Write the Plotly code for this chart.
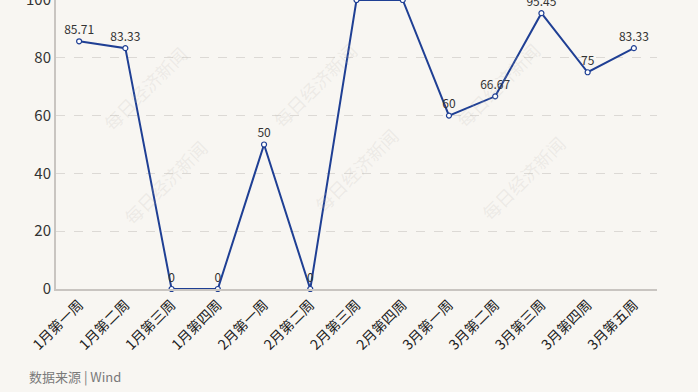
import plotly.graph_objects as go

categories = ["1月第一周", "1月第二周", "1月第三周", "1月第四周", "2月第一周", "2月第二周",
              "2月第三周", "2月第四周", "3月第一周", "3月第二周", "3月第三周", "3月第四周", "3月第五周"]
values = [85.71, 83.33, 0, 0, 50, 0, 100, 100, 60, 66.67, 95.45, 75, 83.33]
value_labels = ["85.71", "83.33", "0", "0", "50", "0", "", "", "60", "66.67", "95.45", "75", "83.33"]
y_ticks = [0, 20, 40, 60, 80, 100]

FONT = "Noto Sans CJK SC, Noto Sans, sans-serif"
BG = "#f8f6f2"
LINE = "#1f3f94"

fig = go.Figure()
fig.add_trace(go.Scatter(
    x=categories, y=values, mode="lines+markers+text",
    text=value_labels, textposition="top center",
    textfont=dict(family=FONT, size=12, color="#333333"),
    line=dict(color=LINE, width=2),
    marker=dict(size=5, color="white", line=dict(color=LINE, width=1.2)),
    cliponaxis=False, showlegend=False,
))

# watermarks
wm = [(95, 38), (315, 35), (548, 35), (115, 232), (356, 220), (573, 228)]
for (px, py) in wm:
    fig.add_annotation(text="每日经济新闻", xref="paper", yref="paper",
                       x=(px - 56) / (657 - 56), y=(289 - py) / 289,
                       showarrow=False, textangle=-45,
                       font=dict(family=FONT, size=18, color="rgba(190,185,180,0.2)"))

fig.add_annotation(text="数据来源 | Wind", xref="paper", yref="paper",
                   x=-29 / 601, y=-87 / 289, xanchor="left", yanchor="middle",
                   showarrow=False, font=dict(family=FONT, size=13, color="#7a7a7a"))

fig.update_layout(
    width=698, height=392,
    margin=dict(l=56, r=41, t=0, b=103),
    paper_bgcolor=BG, plot_bgcolor=BG,
    xaxis=dict(
        type="category", showgrid=False, showline=True, linecolor="#c9c5c1", linewidth=2,
        tickangle=-45, tickfont=dict(family=FONT, size=14, color="#222222"),
        ticks="", range=[-0.5, len(categories) - 0.5], automargin=False,
    ),
    yaxis=dict(
        range=[0, 100], tickvals=y_ticks, showgrid=True, gridcolor="#dcd9d5", griddash="dash",
        gridwidth=1, zeroline=False, showline=True, linecolor="#c9c5c1", linewidth=2,
        tickfont=dict(family=FONT, size=15, color="#333333"), ticks="", ticklen=0,
        ticklabeloverflow="allow", automargin=False,
    ),
)

fig.write_html("out.html")
